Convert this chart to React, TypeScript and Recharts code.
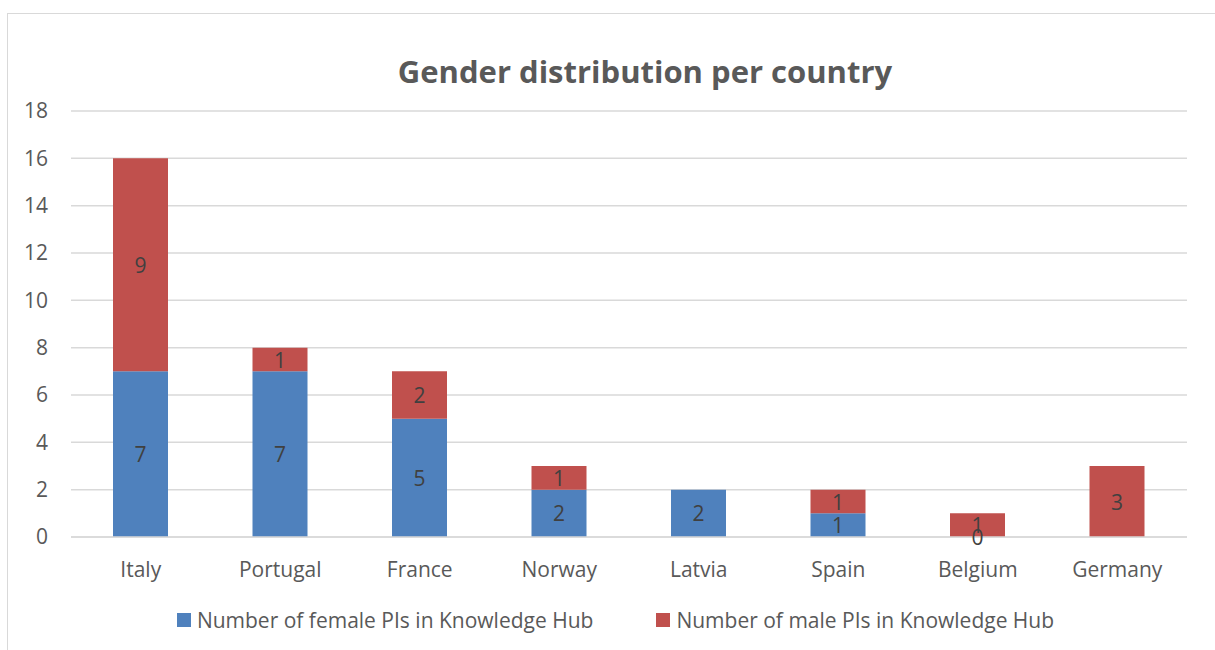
import { Bar, BarChart, CartesianGrid, LabelList, Legend, XAxis, YAxis } from 'recharts'

const countries = ['Italy', 'Portugal', 'France', 'Norway', 'Latvia', 'Spain', 'Belgium', 'Germany']
const femalePIs: (number | null)[] = [7, 7, 5, 2, 2, 1, 0, null]
const malePIs: (number | null)[] = [9, 1, 2, 1, null, 1, 1, 3]
const yTicks = [0, 2, 4, 6, 8, 10, 12, 14, 16, 18]

const FEMALE = '#4F81BD'
const MALE = '#C0504D'
const TEXT = '#595959'
const FONT = '"Open Sans", "Liberation Sans", sans-serif'

const data = countries.map((country, i) => ({
  country,
  female: femalePIs[i],
  male: malePIs[i],
}))

const seriesNames = [
  { key: 'female', name: 'Number of female PIs in Knowledge Hub', color: FEMALE },
  { key: 'male', name: 'Number of male PIs in Knowledge Hub', color: MALE },
]

function SegmentLabel(props: any) {
  const { x, y, width, height, value } = props
  if (value === null || value === undefined) return null
  return (
    <text
      x={Number(x) + Number(width) / 2}
      y={Number(y) + Number(height) / 2}
      textAnchor="middle"
      dominantBaseline="central"
      fill="#404040"
      fontSize={21}
      fontFamily={FONT}
    >
      {value}
    </text>
  )
}

function LegendContent() {
  return (
    <div style={{ display: 'flex', justifyContent: 'center', gap: 63, fontFamily: FONT, fontSize: 21, color: TEXT }}>
      {seriesNames.map((s) => (
        <div key={s.key} style={{ display: 'flex', alignItems: 'center' }}>
          <span style={{ width: 14, height: 14, background: s.color, display: 'inline-block', marginRight: 6 }} />
          <span>{s.name}</span>
        </div>
      ))}
    </div>
  )
}

// zero-valued segments still need a (invisible) rect so their label is drawn
const zeroSize = (value: any) => (value === 0 ? 0.01 : 0)

export default function App() {
  return (
    <div style={{ position: 'absolute', left: 0, top: 0, width: 1215, height: 650, overflow: 'hidden', background: '#fff' }}>
      <div
        style={{
          position: 'absolute',
          left: 7,
          top: 13,
          width: 1400,
          height: 800,
          border: '1.5px solid #D9D9D9',
          boxSizing: 'border-box',
        }}
      />
      <div
        style={{
          position: 'absolute',
          left: 0,
          top: 50,
          width: 1290,
          textAlign: 'center',
          fontFamily: FONT,
          fontWeight: 700,
          fontSize: 31,
          color: TEXT,
        }}
      >
        Gender distribution per country
      </div>
      <div style={{ position: 'absolute', left: 0, top: 0 }}>
        {/* x axis keeps its default 30px height on top of the bottom margin */}
        <BarChart width={1215} height={650} data={data} margin={{ top: 111, right: 28, left: 0, bottom: 83 }} barSize={55}>
          <CartesianGrid vertical={false} stroke="#D9D9D9" strokeWidth={1.5} />
          <XAxis
            dataKey="country"
            tickLine={false}
            axisLine={{ stroke: '#D9D9D9', strokeWidth: 1.5 }}
            tick={{ fill: TEXT, fontSize: 21, fontFamily: FONT }}
            tickMargin={19}
            interval={0}
          />
          <YAxis
            width={71}
            domain={[0, 18]}
            ticks={yTicks}
            tickLine={false}
            axisLine={false}
            tick={{ fill: TEXT, fontSize: 21, fontFamily: FONT }}
            tickMargin={17}
          />
          <Legend
            verticalAlign="middle"
            layout="horizontal"
            content={() => <LegendContent />}
            wrapperStyle={{ left: 0, width: 1231, top: 606 }}
          />
          {seriesNames.map((s) => (
            <Bar
              key={s.key}
              dataKey={s.key}
              name={s.name}
              stackId="a"
              fill={s.color}
              minPointSize={zeroSize}
              isAnimationActive={false}
            >
              <LabelList dataKey={s.key} content={SegmentLabel} />
            </Bar>
          ))}
        </BarChart>
      </div>
    </div>
  )
}
